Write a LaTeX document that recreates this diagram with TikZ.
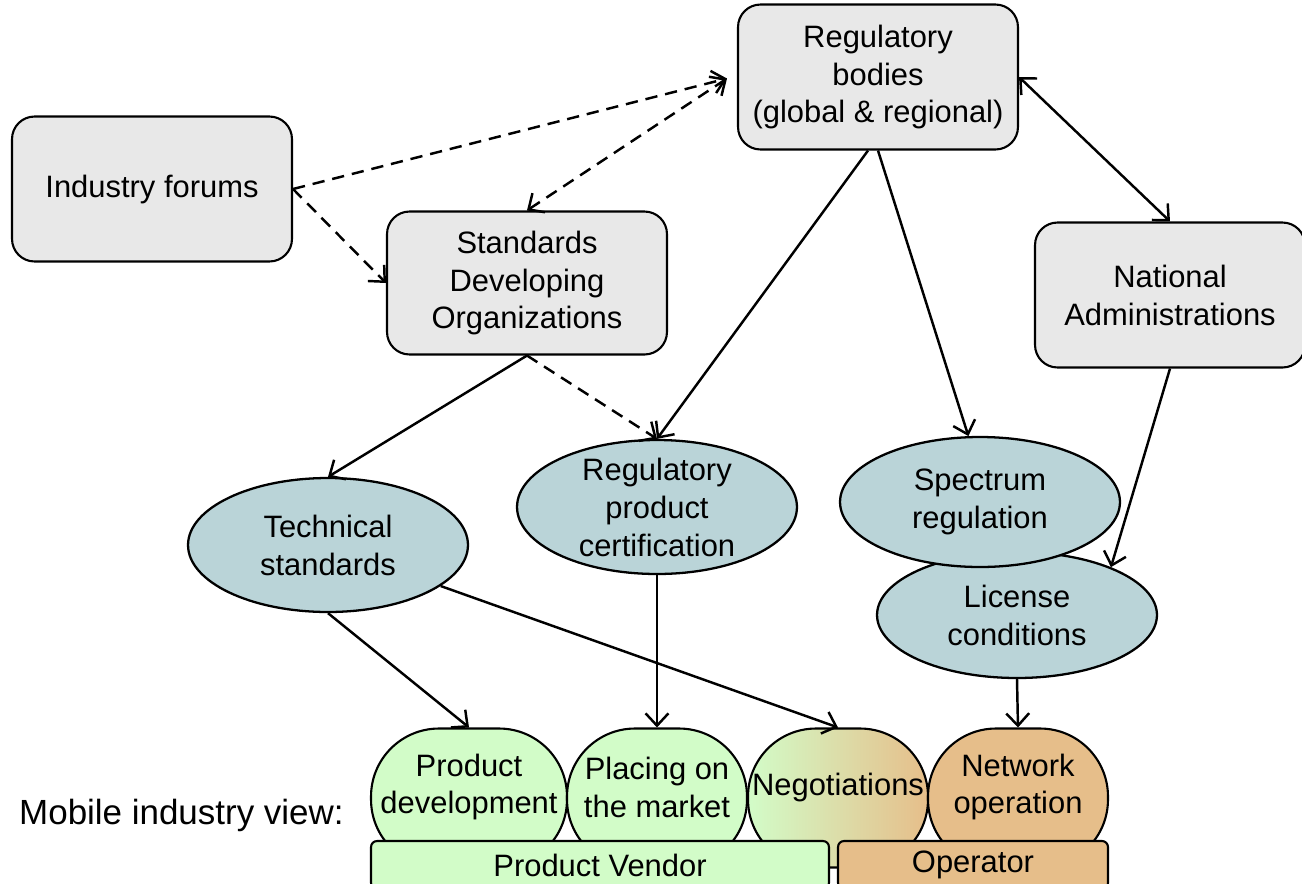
\documentclass[tikz,border=0pt]{standalone}
\usepackage{fontspec}
\setmainfont{Liberation Sans}
\usepackage{tikz}
\usetikzlibrary{shapes,positioning,calc,arrows.meta}
\definecolor{boxgray}{RGB}{232,232,232}
\definecolor{ellblue}{RGB}{186,212,216}
\definecolor{vgreen}{RGB}{210,252,200}
\definecolor{opbrown}{RGB}{230,190,138}
\newcommand{\bigfont}{\fontsize{17.6}{21.6}\selectfont}

\begin{document}
\begin{tikzpicture}[x=0.02cm,y=-0.02cm,
    every node/.style={font=\bigfont},
    box/.style={draw,line width=1.2pt,fill=boxgray,rounded corners=0.45cm,align=center,minimum width=5.6cm,minimum height=2.9cm},
    ell/.style={draw,line width=1.3pt,fill=ellblue,ellipse,inner sep=0pt,minimum width=5.6cm,minimum height=2.68cm},
    view/.style={draw,line width=1.2pt,rounded corners=1.36cm,inner sep=0pt,minimum width=3.6cm,minimum height=2.78cm},
    bar/.style={draw,line width=1.2pt,rounded corners=0.12cm,inner sep=0pt,minimum height=0.96cm},
    link/.style={line width=1.4pt,->},
    dlink/.style={link,dash pattern=on 7pt off 4.5pt},
    >={Straight Barb[length=7pt,width=13pt]}]
  \useasboundingbox (0,0) rectangle (1302,883);

  \node[box] (reg) at (878,77) {Regulatory\\bodies\\(global \& regional)};
  \node[box] (forum) at (152,189) {Industry forums};
  \node[box,minimum height=2.86cm] (sdo) at (527,283) {Standards\\Developing\\Organizations};
  \node[box,minimum width=5.4cm] (nat) at (1170,295) {National\\Administrations};

  \node[ell] (tech) at (328,545) {};
  \node[ell] (cert) at (657,507) {};
  \node[ell,minimum height=2.52cm] (lic) at (1017,615) {};
  \node[ell,minimum height=2.6cm] (spec) at (980,502) {};
  \node[align=center] (tech-t) at (tech) {Technical\\standards};
  \node[align=center] (cert-t) at (cert) {Regulatory\\product\\certification};
  \node[align=center] (spec-t) at (spec) {Spectrum\\regulation};
  \node[align=center] (lic-t) at (lic) {License\\conditions};

  \node[view,fill=vgreen,minimum width=3.92cm] (prod) at (469,798) {};
  \node[view,fill=vgreen] (place) at (657,798) {};
  \node[view,left color=vgreen,middle color=vgreen,right color=opbrown] (neg) at (838,798) {};
  \node[view,fill=opbrown] (net) at (1018,798) {};
  \node[align=center] (prod-t) at (469,787) {Product\\development};
  \node[align=center] (place-t) at (657,787) {Placing on\\the market};
  \node (neg-t) at (838,787) {Negotiations};
  \node[align=center] (net-t) at (1018,787) {Network\\operation};

  \node[bar,fill=vgreen,minimum width=9.16cm] (vendor) at (600,865) {Product Vendor};
  \node[bar,fill=opbrown,minimum width=5.4cm] (oper) at (973,865) {Operator};
  \node[anchor=west,font=\fontsize{19.9}{24}\selectfont] (mview) at (13,815) {Mobile industry view:};

  \coordinate (r) at ([xshift=-0.2cm,yshift=-0.03cm]reg.west);
  \draw[dlink] (forum.east) -- (r);
  \draw[dlink,<->] (sdo.north) -- (r);
  \draw[dlink] (forum.east) -- (sdo.west);
  \draw[link,<->] (reg.east) -- (nat.north);
  \draw[link] (sdo.south) -- (tech.north);
  \draw[dlink] (sdo.south) -- (cert.north);
  \draw[link] ([xshift=-0.2cm]reg.south) -- (cert.north);
  \draw[link] (reg.south) -- (spec.100);
  \draw[link] (nat.south) -- (lic.27);
  \draw[link] (tech.south) -- (prod.north);
  \draw[link] (tech.-20) -- (neg.north);
  \draw[link] (cert.south) -- (place.north);
  \draw[link] (lic.south) -- (net.north);
\end{tikzpicture}
\end{document}
